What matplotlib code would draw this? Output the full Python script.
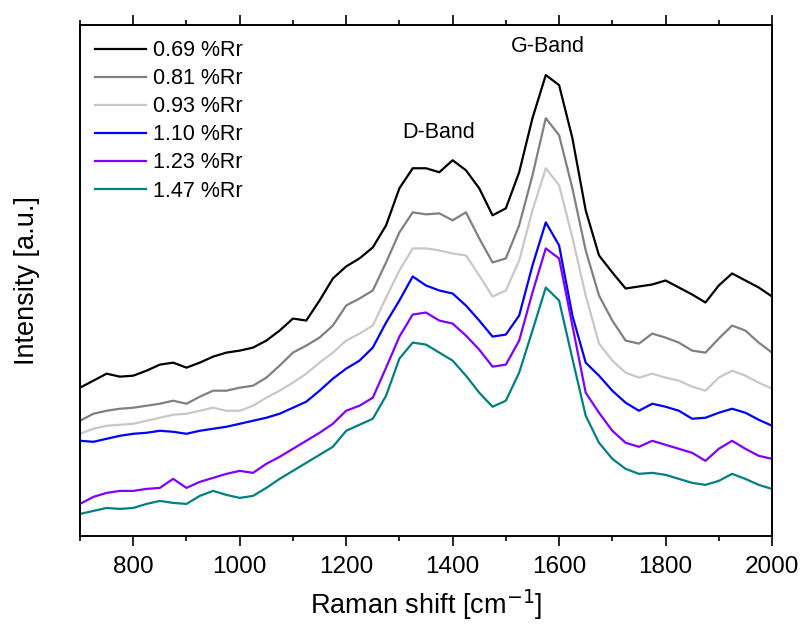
import numpy as np
import matplotlib
matplotlib.use("Agg")
import matplotlib.pyplot as plt
from matplotlib.ticker import MultipleLocator

plt.rcParams['font.family'] = ['Liberation Sans', 'DejaVu Sans']

# Raman shift grid (cm-1), values every 25 cm-1
shift = np.arange(700, 2001, 25)

r069 = [148, 155, 162, 159, 160, 165, 171, 173, 168, 173,
        179, 183, 185, 188, 195, 205, 217, 215, 235, 257,
        269, 277, 288, 310, 347, 367, 367, 363, 375, 365,
        347, 320, 327, 363, 417, 460, 450, 397, 325, 280,
        263, 247, 249, 251, 255, 248, 241, 233, 250, 262,
        255, 248, 239]
r081 = [115, 122, 125, 127, 128, 130, 132, 135, 132, 139,
        145, 145, 148, 150, 158, 170, 183, 190, 198, 210,
        230, 237, 245, 273, 303, 323, 321, 322, 315, 323,
        297, 273, 277, 310, 360, 417, 400, 347, 285, 240,
        215, 195, 192, 202, 198, 193, 185, 183, 197, 210,
        205, 193, 183]
r093 = [102, 107, 110, 111, 112, 115, 118, 121, 122, 125,
        128, 125, 125, 130, 138, 145, 153, 162, 173, 183,
        195, 202, 210, 238, 265, 287, 287, 285, 282, 280,
        260, 239, 245, 275, 325, 367, 350, 298, 240, 192,
        175, 163, 158, 162, 158, 155, 149, 145, 158, 165,
        160, 153, 147]
r110 = [95, 94, 97, 100, 102, 103, 105, 104, 102, 105,
        107, 109, 112, 115, 118, 122, 128, 134, 145, 157,
        167, 175, 188, 213, 235, 259, 250, 245, 242, 230,
        215, 199, 201, 220, 270, 313, 290, 220, 173, 160,
        145, 133, 125, 132, 129, 125, 117, 118, 123, 127,
        123, 116, 110]
r123 = [32, 39, 43, 45, 45, 47, 48, 57, 48, 54,
        58, 62, 65, 63, 72, 79, 87, 95, 103, 112,
        125, 130, 138, 168, 199, 221, 223, 215, 212, 200,
        186, 169, 171, 195, 243, 287, 277, 210, 143, 123,
        105, 93, 89, 95, 91, 87, 83, 75, 87, 95,
        87, 80, 77]
r147 = [22, 25, 28, 27, 28, 32, 35, 33, 32, 40,
        45, 41, 38, 40, 48, 57, 65, 73, 81, 89,
        105, 111, 117, 140, 177, 193, 191, 183, 175, 160,
        143, 129, 135, 163, 205, 248, 235, 177, 120, 93,
        77, 67, 62, 63, 61, 57, 53, 51, 55, 62,
        57, 51, 47]

labels = ['0.69 %Rr', '0.81 %Rr', '0.93 %Rr', '1.10 %Rr', '1.23 %Rr', '1.47 %Rr']
colors = ['#000000', '#808080', '#c8c8c8', '#0000ff', '#8000ff', '#008080']

fig = plt.figure(figsize=(8.01, 6.26), dpi=100)
ax = fig.add_axes([0.0999, 0.1438, 0.8639, 0.8163])

for y, lab, c in zip([r069, r081, r093, r110, r123, r147], labels, colors):
    ax.plot(shift, y, color=c, lw=1.6, label=lab)

ax.set_xlim(700, 2000)
ax.set_ylim(0, 510)
ax.xaxis.set_major_locator(MultipleLocator(200))
ax.xaxis.set_minor_locator(MultipleLocator(100))
ax.set_yticks([])
ax.tick_params(axis='x', which='major', direction='out', length=7, width=1.2,
               top=True, labelsize=17.5, pad=7.5)
ax.tick_params(axis='x', which='minor', direction='out', length=3.6, width=1.2, top=True)
for s in ax.spines.values():
    s.set_linewidth(1.4)

ax.set_xlabel('Raman shift [cm$^{-1}$]', fontsize=19.5, labelpad=7)
ax.set_ylabel('Intensity [a.u.]', fontsize=19.5, labelpad=29)

ax.text(1373, 403, 'D-Band', ha='center', va='center', fontsize=15.5)
ax.text(1579, 489, 'G-Band', ha='center', va='center', fontsize=15.5)

ax.legend(loc='upper left', frameon=False, fontsize=15.5, handlelength=2.37,
          handletextpad=0.33, labelspacing=0.33, borderaxespad=0.3,
          bbox_to_anchor=(0.0, 1.0))

fig.savefig('out.png', dpi=100)
